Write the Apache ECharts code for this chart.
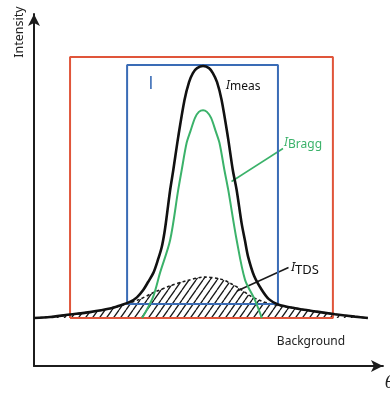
<!DOCTYPE html>
<html>
<head>
<meta charset="utf-8">
<script src="https://cdn.jsdelivr.net/npm/echarts@6/dist/echarts.min.js"></script>
<style>
  html, body { margin: 0; padding: 0; background: #ffffff; }
  #chart { width: 390px; height: 394px; }
</style>
</head>
<body>
<div id="chart"></div>
<script>
// Scattering angle (arbitrary units) and intensity (arbitrary units)
const measX = [0.0, 4.6, 10.3, 16.0, 21.7, 24.6, 27.4, 29.4, 31.2, 32.6, 34.1, 35.4, 36.5, 37.3, 37.9, 38.9, 39.8, 41.2, 43.0, 44.3, 45.4, 46.6, 48.3, 50.0, 51.1, 52.3, 53.6, 55.4, 56.8, 57.9, 59.3, 60.3, 61.2, 62.9, 65.1, 67.1, 69.7, 74.6, 80.3, 86.0, 91.7, 95.4];
const measY = [13.7, 14.0, 14.7, 15.4, 16.4, 17.3, 18.3, 19.6, 21.7, 24.0, 26.6, 30.3, 34.0, 38.3, 42.6, 50.3, 56.0, 65.4, 76.0, 81.1, 83.7, 85.1, 85.7, 85.1, 83.7, 81.1, 76.0, 65.4, 56.0, 50.3, 40.9, 35.7, 31.1, 25.7, 21.7, 19.1, 17.6, 16.5, 15.6, 14.8, 14.1, 13.7];

const braggX = [30.9, 34.0, 36.0, 38.9, 41.2, 42.2, 43.6, 44.7, 46.0, 47.1, 48.3, 49.4, 50.6, 51.9, 53.0, 54.4, 55.5, 57.9, 60.3, 63.1, 65.1];
const braggY = [13.7, 19.7, 26.6, 36.0, 50.3, 56.0, 63.7, 67.1, 70.9, 72.6, 73.1, 72.6, 70.9, 67.1, 63.7, 56.0, 50.3, 36.0, 24.6, 18.9, 13.7];

const tdsX = [0.0, 4.6, 10.3, 16.0, 21.7, 26.0, 30.3, 34.0, 38.9, 43.7, 48.6, 53.1, 56.0, 58.9, 61.7, 64.6, 67.4, 70.3, 74.6, 80.3, 86.0, 91.7, 95.4];
const tdsY = [13.7, 14.0, 14.7, 15.4, 16.4, 17.6, 19.1, 20.9, 22.9, 24.4, 25.4, 24.9, 23.7, 22.0, 20.1, 18.7, 17.8, 17.2, 16.5, 15.6, 14.8, 14.1, 13.7];

const background = 13.7;

// Integration windows: [left, right] and [bottom, top]
const outerBoxX = [10.3, 85.4];
const outerBoxY = [13.7, 88.3];
const innerBoxX = [26.6, 69.7];
const innerBoxY = [17.7, 86.0];

// Axis extents
const xMax = 99.7;
const yMax = 100.6;
const pxPerUnit = 3.5;

const zip = (xs, ys) => xs.map((x, i) => [x, ys[i]]);
const box = (bx, by) => [
  [bx[0], by[0]], [bx[1], by[0]], [bx[1], by[1]], [bx[0], by[1]], [bx[0], by[0]]
];

// Diagonal hatch tile for the thermal diffuse area
function makeHatch() {
  const w = 7, h = 10;
  const c = document.createElement('canvas');
  c.width = w; c.height = h;
  const g = c.getContext('2d');
  g.strokeStyle = '#1a1a1a';
  g.lineWidth = 1.3;
  g.beginPath();
  for (let k = -1; k <= 1; k++) {
    g.moveTo(k * w, h);
    g.lineTo(k * w + w, 0);
  }
  g.stroke();
  return c;
}

const RED = '#e0553a';
const BLUE = '#3a6cb6';
const GREEN = '#3bb26a';
const FONT = '"Noto Sans", "Open Sans", sans-serif';

const chart = echarts.init(document.getElementById('chart'), null, { renderer: 'canvas' });

const axisCommon = {
  type: 'value',
  min: 0,
  axisLine: {
    show: true,
    onZero: false,
    symbol: ['none', 'arrow'],
    symbolSize: [9, 12],
    lineStyle: { color: '#1c1c1c', width: 2 }
  },
  axisTick: { show: false },
  axisLabel: { show: false },
  splitLine: { show: false }
};

const curve = {
  type: 'line',
  showSymbol: false,
  smooth: 0.3
};

chart.setOption({
  animation: false,
  backgroundColor: '#ffffff',
  grid: {
    left: 34,
    bottom: 28,
    width: xMax * pxPerUnit,
    height: yMax * pxPerUnit,
    containLabel: false
  },
  xAxis: Object.assign({}, axisCommon, { max: xMax }),
  yAxis: Object.assign({}, axisCommon, { max: yMax }),
  series: [
    Object.assign({}, curve, {
      name: 'TDS',
      data: zip(tdsX, tdsY),
      z: 2,
      lineStyle: { color: '#1a1a1a', width: 1.6, type: [3, 2.5] },
      areaStyle: { color: { image: makeHatch(), repeat: 'repeat' }, origin: background, opacity: 1 }
    }),
    {
      name: 'outer window',
      type: 'line',
      data: box(outerBoxX, outerBoxY),
      showSymbol: false,
      z: 3,
      lineStyle: { color: RED, width: 2 }
    },
    {
      name: 'inner window',
      type: 'line',
      data: box(innerBoxX, innerBoxY),
      showSymbol: false,
      z: 3,
      lineStyle: { color: BLUE, width: 2 }
    },
    Object.assign({}, curve, {
      name: 'Bragg',
      data: zip(braggX, braggY),
      z: 4,
      lineStyle: { color: GREEN, width: 2 }
    }),
    Object.assign({}, curve, {
      name: 'meas',
      data: zip(measX, measY),
      z: 5,
      lineStyle: { color: '#111111', width: 2.6 }
    })
  ],
  graphic: [
    {
      type: 'text', x: 19, y: 32, rotation: Math.PI / 2,
      style: { text: 'Intensity', fill: '#222', font: '12.5px ' + FONT, align: 'center', verticalAlign: 'middle', textAlign: 'center', textVerticalAlign: 'middle' }
    },
    {
      type: 'text', x: 151, y: 84,
      style: { text: 'I', fill: BLUE, font: '19px "Open Sans", sans-serif', align: 'center', verticalAlign: 'middle', textAlign: 'center', textVerticalAlign: 'middle' }
    },
    {
      type: 'text', x: 226, y: 85.5,
      style: { text: 'I', fill: '#111', font: 'italic 12px ' + FONT, align: 'left', verticalAlign: 'middle', textAlign: 'left', textVerticalAlign: 'middle' }
    },
    {
      type: 'text', x: 230, y: 87,
      style: { text: 'meas', fill: '#111', font: '12px ' + FONT, align: 'left', verticalAlign: 'middle', textAlign: 'left', textVerticalAlign: 'middle' }
    },
    {
      type: 'text', x: 284, y: 142.5,
      style: { text: 'I', fill: GREEN, font: 'italic 12px ' + FONT, align: 'left', verticalAlign: 'middle', textAlign: 'left', textVerticalAlign: 'middle' }
    },
    {
      type: 'text', x: 288, y: 145,
      style: { text: 'Bragg', fill: GREEN, font: '12px ' + FONT, align: 'left', verticalAlign: 'middle', textAlign: 'left', textVerticalAlign: 'middle' }
    },
    {
      type: 'line', shape: { x1: 283, y1: 148.5, x2: 231.5, y2: 181.5 },
      style: { stroke: GREEN, lineWidth: 1.5 }
    },
    {
      type: 'text', x: 291, y: 267,
      style: { text: 'I', fill: '#111', font: 'italic 13px ' + FONT, align: 'left', verticalAlign: 'middle', textAlign: 'left', textVerticalAlign: 'middle' }
    },
    {
      type: 'text', x: 295, y: 270,
      style: { text: 'TDS', fill: '#111', font: '13px ' + FONT, align: 'left', verticalAlign: 'middle', textAlign: 'left', textVerticalAlign: 'middle' }
    },
    {
      type: 'line', shape: { x1: 288.5, y1: 267.5, x2: 237, y2: 291 },
      style: { stroke: '#1a1a1a', lineWidth: 1.5 }
    },
    {
      type: 'text', x: 311, y: 341.5,
      style: { text: 'Background', fill: '#222', font: '12px ' + FONT, align: 'center', verticalAlign: 'middle', textAlign: 'center', textVerticalAlign: 'middle' }
    },
    {
      type: 'text', x: 385, y: 384,
      style: { text: 'θ', fill: '#222', font: 'italic 16px "DejaVu Serif", serif', align: 'left', verticalAlign: 'middle', textAlign: 'left', textVerticalAlign: 'middle' }
    }
  ]
});
</script>
</body>
</html>
